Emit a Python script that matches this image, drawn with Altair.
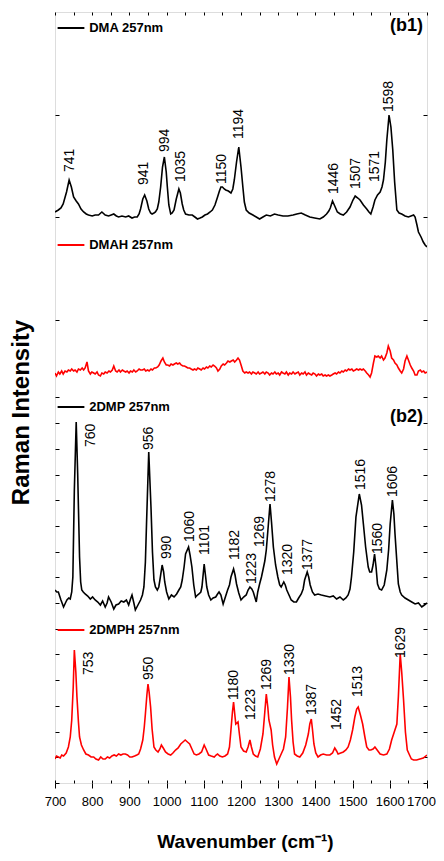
import altair as alt
import pandas as pd

# ---- spectra (wavenumber, intensity in arbitrary units) ----
dma = [(700,5),(709,7),(716,9),(722,13),(731,25),(738,37),(744,30),(750,20),(757,16),(763,13),(770,8),(777,5),(784,3),(790,2),
       (800,1),(808,2),(817,2),(826,5),(835,2),(844,1),(851,2),(858,3),(865,1),(871,0),(880,1),(890,0),(898,1),(907,-1),(914,0),(921,0),
       (926,3),(930,8),(936,18),(941,22),(947,16),(952,8),(957,4),(961,3),(966,4),(970,5),(975,8),(979,15),(984,30),(989,50),(994,60),
       (999,45),(1002,30),(1006,12),(1011,3),(1015,4),(1020,7),(1026,18),(1033,28),(1037,24),(1042,13),(1046,7),(1051,3),(1060,2),(1069,2),
       (1076,0),(1083,-2),(1090,-1),(1096,0),(1103,2),(1110,3),(1117,5),(1123,7),(1130,12),(1137,20),(1142,26),(1146,30),(1150,30),(1155,28),
       (1159,27),(1166,26),(1173,24),(1178,28),(1182,37),(1188,55),(1194,70),(1200,50),(1205,30),(1209,15),(1214,7),(1222,4),(1232,2),
       (1241,0),(1250,-2),(1259,0),(1268,2),(1279,1),(1290,3),(1300,2),(1313,1),(1326,1),(1340,2),(1350,3),(1362,4),(1373,2),(1385,0),
       (1398,-1),(1412,-2),(1421,0),(1430,3),(1436,6),(1440,9),(1446,16),(1452,11),(1459,5),(1467,3),(1475,2),(1484,5),(1493,10),(1501,17),
       (1507,21),(1514,19),(1520,17),(1529,12),(1538,8),(1544,5),(1549,3),(1555,10),(1560,17),(1567,22),(1574,25),(1579,30),(1583,37),
       (1588,55),(1592,77),(1598,102),(1603,90),(1608,67),(1613,35),(1619,7),(1625,4),(1632,3),(1641,1),(1650,0),(1657,1),(1664,2),
       (1668,0),(1673,-8),(1677,-15),(1684,-20),(1690,-25),(1695,-28),(1700,-30)]

dmah = [(700,0),(704,-3),(709,1),(713,-1),(718,2),(722,-1),(727,2),(732,1),(736,3),(741,2),(745,4),(750,2),(754,3),(759,1),(763,4),
        (768,3),(773,5),(777,3),(781,5),(786,11),(790,2),(795,-1),(799,1),(804,0),(808,-1),(813,1),(817,-2),(822,-3),(826,0),(831,-1),
        (835,1),(840,0),(845,2),(849,1),(854,3),(858,7),(863,2),(867,1),(872,3),(876,1),(881,3),(885,2),(890,1),(894,2),(899,0),(903,2),
        (908,1),(912,3),(917,1),(921,2),(926,4),(930,3),(935,3),(940,4),(944,2),(949,3),(953,2),(958,4),(962,3),(967,5),(971,5),(976,6),
        (980,8),(985,12),(990,15),(994,11),(999,8),(1003,8),(1008,7),(1012,9),(1017,8),(1021,9),(1026,10),(1030,9),(1035,10),(1039,8),
        (1044,7),(1048,7),(1053,6),(1057,5),(1062,5),(1066,4),(1071,3),(1075,4),(1080,3),(1084,5),(1089,4),(1093,3),(1098,5),(1102,4),
        (1107,6),(1111,5),(1116,7),(1120,6),(1125,8),(1129,7),(1134,5),(1138,2),(1143,4),(1147,7),(1152,9),(1156,8),(1161,10),(1165,12),
        (1170,11),(1174,12),(1179,13),(1183,11),(1188,13),(1192,15),(1196,13),(1201,7),(1205,2),(1210,0),(1214,1),(1219,0),(1223,1),
        (1228,-1),(1232,1),(1237,0),(1241,-1),(1246,1),(1250,-1),(1255,0),(1259,1),(1264,-1),(1268,1),(1273,0),(1277,-2),(1282,0),
        (1286,-1),(1291,1),(1295,-1),(1300,0),(1304,-2),(1309,1),(1313,0),(1318,-1),(1322,1),(1327,-2),(1331,0),(1336,-1),(1340,1),
        (1345,-1),(1349,0),(1354,1),(1358,-2),(1363,0),(1367,-1),(1372,1),(1376,-2),(1381,0),(1385,-1),(1390,-2),(1394,0),(1399,-1),
        (1403,-3),(1408,-1),(1412,-2),(1417,-1),(1421,-3),(1426,-2),(1430,-3),(1435,-2),(1439,-3),(1444,-2),(1448,-1),(1453,0),(1457,-1),
        (1462,1),(1466,0),(1471,2),(1475,1),(1480,3),(1484,2),(1489,4),(1493,3),(1498,4),(1502,2),(1507,3),(1511,4),(1516,3),(1520,4),
        (1525,3),(1529,4),(1534,2),(1538,0),(1543,-2),(1547,-4),(1551,0),(1556,10),(1560,17),(1565,16),(1569,17),(1574,15),(1578,17),
        (1583,13),(1587,15),(1592,20),(1596,27),(1601,22),(1605,15),(1610,13),(1614,10),(1619,8),(1623,5),(1628,2),(1632,0),(1637,4),
        (1641,12),(1646,17),(1650,13),(1655,8),(1659,5),(1664,2),(1668,-2),(1673,-2),(1677,2),(1682,3),(1686,1),(1691,2),(1695,0),(1700,1)]

dmp = [(700,7),(705,5),(709,5),(716,-3),(723,-10),(728,-6),(732,-3),(737,-1),(741,-2),(745,5),(748,20),(752,107),(757,175),(761,123),
       (766,40),(769,15),(772,7),(776,5),(781,3),(788,1),(795,-2),(801,0),(808,-3),(815,-5),(822,-8),(828,-4),(835,-10),(840,-6),(844,0),
       (851,-5),(858,-12),(864,-8),(871,-7),(878,-4),(885,-5),(892,-3),(898,-8),(903,-2),(907,2),(912,-6),(916,-13),(923,-8),(930,-3),
       (935,2),(939,10),(943,35),(946,73),(952,145),(958,90),(962,45),(966,17),(970,10),(975,7),(979,10),(982,17),(988,32),(992,25),(995,15),
       (1000,5),(1006,-2),(1013,2),(1020,0),(1027,3),(1033,7),(1038,10),(1042,17),(1047,30),(1051,43),(1059,50),(1063,42),(1068,30),
       (1073,12),(1078,0),(1083,2),(1087,3),(1092,5),(1095,10),(1101,33),(1105,20),(1108,10),(1113,2),(1119,-3),(1125,-1),(1132,0),
       (1137,3),(1141,5),(1146,2),(1152,-7),(1158,0),(1164,7),(1169,12),(1173,20),(1180,28),(1184,22),(1188,13),(1194,4),(1200,-3),
       (1207,0),(1214,2),(1219,7),(1224,10),(1229,8),(1233,5),(1237,0),(1241,-5),(1245,5),(1250,13),(1255,20),(1259,27),(1264,36),
       (1268,47),(1273,70),(1278,93),(1282,75),(1287,50),(1293,32),(1299,20),(1304,12),(1308,10),(1315,15),(1319,12),(1323,7),(1329,2),
       (1335,-3),(1342,-5),(1349,-5),(1355,-1),(1362,3),(1367,8),(1371,17),(1378,25),(1382,20),(1386,12),(1392,5),(1398,2),(1407,3),
       (1416,2),(1427,1),(1439,0),(1448,1),(1457,-2),(1466,0),(1475,-3),(1482,-1),(1488,2),(1493,8),(1497,20),(1503,45),(1509,80),
       (1518,103),(1524,92),(1529,73),(1535,50),(1542,30),(1546,25),(1551,25),(1555,32),(1559,43),(1563,30),(1567,13),(1572,8),(1578,7),
       (1585,12),(1592,27),(1597,48),(1601,73),(1607,97),(1611,83),(1614,63),(1619,35),(1623,13),(1628,5),(1632,2),(1641,-1),(1650,-3),
       (1659,-5),(1668,-7),(1677,-6),(1686,-10),(1693,-8),(1700,-6)]

dmph = [(700,-2),(704,1),(709,0),(714,-1),(718,2),(723,1),(730,4),(736,10),(741,20),(745,37),(749,70),(752,107),(756,85),(759,60),
        (763,35),(766,20),(771,12),(777,7),(783,3),(790,2),(797,0),(804,0),(810,-2),(817,-3),(823,0),(829,-2),(835,-2),(841,0),(847,-1),
        (853,1),(859,2),(865,1),(871,3),(877,2),(883,3),(889,3),(895,2),(901,0),(907,0),(914,1),(920,2),(925,3),(930,8),(936,17),(940,30),
        (943,43),(947,62),(950,73),(953,65),(957,50),(961,28),(966,10),(971,7),(977,5),(982,8),(986,12),(991,9),(997,5),(1004,3),(1011,2),
        (1017,4),(1024,7),(1031,9),(1038,13),(1044,15),(1050,17),(1056,15),(1062,13),(1068,8),(1074,3),(1080,2),(1087,3),(1094,5),
        (1101,12),(1106,8),(1113,2),(1120,1),(1128,0),(1133,2),(1137,3),(1143,1),(1150,0),(1157,1),(1164,3),(1169,10),(1173,27),(1177,45),
        (1180,55),(1184,40),(1186,33),(1192,35),(1196,22),(1200,10),(1207,6),(1214,5),(1219,10),(1224,17),(1228,10),(1233,3),(1239,1),
        (1245,0),(1252,8),(1259,23),(1264,45),(1268,63),(1272,50),(1275,37),(1281,27),(1285,12),(1290,0),(1296,-7),(1302,-2),(1308,3),
        (1314,8),(1320,20),(1325,50),(1329,80),(1333,60),(1336,37),(1340,15),(1344,3),(1351,1),(1358,0),(1366,4),(1374,12),(1381,23),
        (1385,33),(1389,38),(1392,28),(1396,13),(1401,4),(1407,0),(1414,2),(1421,3),(1430,2),(1439,2),(1446,4),(1452,9),(1457,6),(1461,3),
        (1468,4),(1475,5),(1482,7),(1488,10),(1494,17),(1500,27),(1506,40),(1511,48),(1515,50),(1521,42),(1527,33),(1533,20),(1538,10),
        (1544,7),(1549,7),(1555,8),(1560,10),(1566,7),(1574,3),(1583,2),(1592,3),(1599,8),(1605,17),(1612,25),(1619,33),(1623,60),
        (1628,103),(1632,85),(1637,57),(1642,25),(1647,7),(1653,2),(1658,-2),(1664,-3),(1672,-3),(1681,-2),(1690,-1),(1700,2)]

# ---- peak labels: (text, wavenumber of label, intensity level of label start) ----
dma_labels = [("741",740,45),("941",940,32),("994",997,65),("1035",1038,35),("1150",1149,33),("1194",1195,78),
              ("1446",1450,23),("1507",1509,28),("1571",1559,35),("1598",1599,105)]
dmp_labels = [("760",797,150),("956",952,147),("990",1002,38),("1060",1063,55),("1101",1103,42),("1182",1184,37),
              ("1223",1229,13),("1269",1252,50),("1278",1281,95),("1320",1326,22),("1377",1380,27),("1516",1522,107),
              ("1560",1568,43),("1606",1608,100)]
dmph_labels = [("753",792,82),("950",954,77),("1180",1182,57),("1223",1227,37),("1269",1270,67),("1330",1331,82),
               ("1387",1391,42),("1452",1457,27),("1513",1515,60),("1629",1631,99)]

series_names = ["DMA 257nm", "DMAH 257nm", "2DMP 257nm", "2DMPH 257nm"]
series_colors = ["#000000", "#ff0000", "#000000", "#ff0000"]
panel_names = ["(b1)", "(b2)"]
x_ticks = list(range(700, 1701, 100))
x_minor = list(range(700, 1701, 50))

# ---- layout of the stacked traces (vertical offsets) ----
Y_TOP = 771
offsets = [566, 410, 186, 26]
legend_levels = [755, 538, 376, 153]
panel_levels = [757, 366]
yticks = [round(25.71 * k, 1) for k in range(16)] + [round(Y_TOP - 102.7 * k, 1) for k in (1, 2, 3)]

rows = []
for name, pts, off in zip(series_names, [dma, dmah, dmp, dmph], offsets):
    for w, v in pts:
        rows.append({"series": name, "wn": w, "y": off + v})
spec = pd.DataFrame(rows)

lab_rows = []
for labs, off in zip([dma_labels, dmp_labels, dmph_labels], [offsets[0], offsets[2], offsets[3]]):
    for t, w, v in labs:
        lab_rows.append({"t": t, "lx": w, "ly": off + v})
labels = pd.DataFrame(lab_rows)

legend = pd.DataFrame({"series": series_names, "ly": legend_levels,
                       "x0": [707] * 4, "x1": [779] * 4, "xt": [792] * 4})
panels = pd.DataFrame({"t": panel_names, "ly": panel_levels, "xt": [1689, 1689]})

xs = alt.Scale(domain=[700, 1700], nice=False, zero=False)
ys = alt.Scale(domain=[0, Y_TOP], nice=False, zero=False)
color = alt.Color("series:N", scale=alt.Scale(domain=series_names, range=series_colors), legend=None)

FONT = "Liberation Sans, Arial, sans-serif"

lines = alt.Chart(spec).mark_line(strokeWidth=1.6, clip=True).encode(
    x=alt.X("wn:Q", scale=xs, axis=alt.Axis(
        orient="bottom", values=x_ticks, format="d", tickSize=5, tickColor="black", tickWidth=1,
        labelFont=FONT, labelFontSize=13, labelColor="black", labelPadding=7,
        labelFlush=False, labelOverlap=False, labelBound=False,
        labelOffset={"condition": {"test": "datum.value >= 1700", "value": -6}, "value": 0},
        domain=False, grid=False, title="Wavenumber (cm\u207b\u00b9)",
        titleFont=FONT, titleFontSize=19, titleFontWeight="bold", titleColor="black",
        titleX=190, titleY=49)),
    y=alt.Y("y:Q", scale=ys, axis=alt.Axis(
        orient="left", values=yticks, tickSize=4, offset=-4, tickColor="black", labels=False,
        domain=False, grid=False, title="Raman Intensity", titleFont=FONT,
        titleFontSize=24, titleFontWeight="bold", titleColor="black",
        titleX=-26, titleY=400)),
    color=color,
    detail="series:N",
    order="wn:Q",
)

peak_text = alt.Chart(labels).mark_text(angle=270, align="left", baseline="middle",
                                         fontSize=14, font=FONT, color="black").encode(
    x=alt.X("lx:Q", scale=xs, axis=alt.Axis(
        orient="top", values=x_minor, tickSize=3, offset=-3, tickColor="black",
        labels=False, domain=False, grid=False, title=None)),
    y=alt.Y("ly:Q", scale=ys, axis=alt.Axis(
        orient="right", values=yticks, tickSize=4, offset=-4, tickColor="black",
        labels=False, domain=False, grid=False, title=None)),
    text="t:N",
)

legend_rules = alt.Chart(legend).mark_rule(strokeWidth=2).encode(
    x=alt.X("x0:Q", scale=xs, axis=alt.Axis(
        orient="bottom", values=x_minor, tickSize=3, offset=-3, tickColor="black",
        labels=False, domain=False, grid=False, title=None)),
    x2="x1:Q",
    y=alt.Y("ly:Q", scale=ys, axis=None),
    color=color,
)

legend_text = alt.Chart(legend).mark_text(align="left", baseline="middle", fontSize=13,
                                           fontWeight="bold", font=FONT, color="black").encode(
    x=alt.X("xt:Q", scale=xs, axis=None),
    y=alt.Y("ly:Q", scale=ys, axis=None),
    text="series:N",
)

panel_text = alt.Chart(panels).mark_text(align="right", baseline="middle", fontSize=18,
                                          fontWeight="bold", font=FONT, color="black").encode(
    x=alt.X("xt:Q", scale=xs, axis=None),
    y=alt.Y("ly:Q", scale=ys, axis=None),
    text="t:N",
)

chart = alt.layer(lines, peak_text, legend_rules, legend_text, panel_text).resolve_axis(
    x="independent", y="independent"
).properties(
    width=372, height=771,
    padding={"left": 47, "top": 4, "right": 9, "bottom": 70},
    autosize=alt.AutoSizeParams(type="none"),
    background="white",
).configure_view(stroke="black", strokeWidth=1.5).configure(font="Liberation Sans")

chart.save("out.html", embed_options={"renderer": "svg", "actions": False})
